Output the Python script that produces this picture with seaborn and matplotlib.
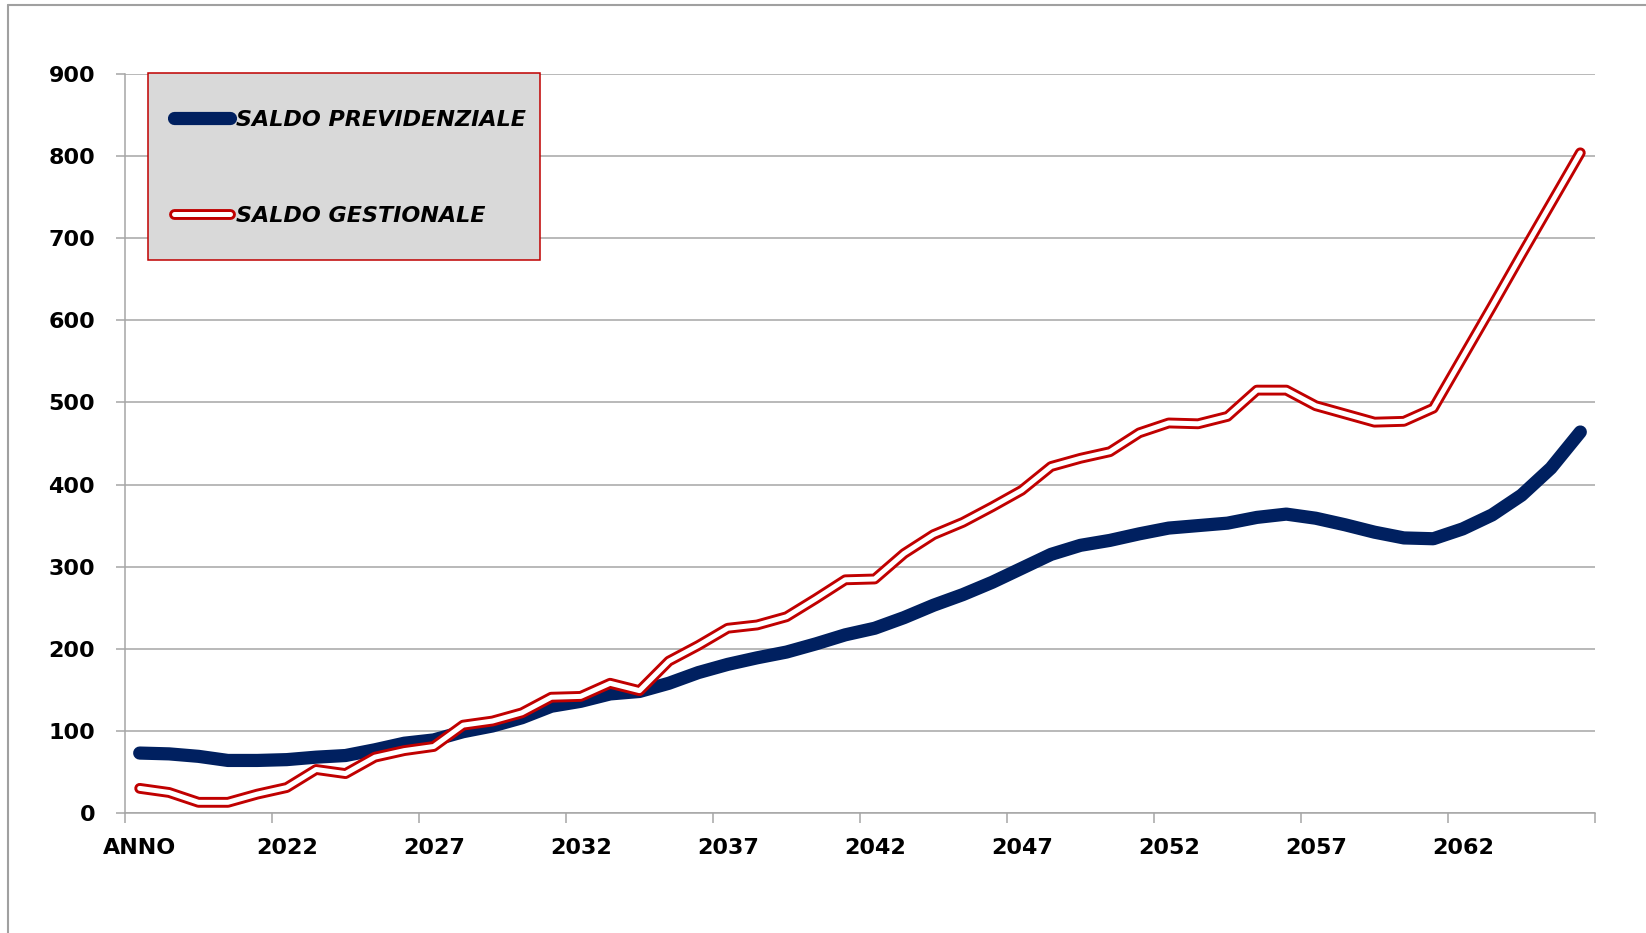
import numpy as np
import pandas as pd
import matplotlib
matplotlib.use("Agg")
import matplotlib.pyplot as plt
from matplotlib.lines import Line2D
from matplotlib.patches import Rectangle
from matplotlib.legend_handler import HandlerTuple
import seaborn as sns

# dati
anni = ["ANNO"] + [str(a) for a in range(2018, 2067)]

saldo_previdenziale = [73, 72, 69, 64, 64, 65, 68, 70, 77, 85,
                       89, 99, 106, 116, 130, 136, 145, 148, 158, 171,
                       181, 189, 196, 206, 217, 225, 238, 253, 266, 281,
                       298, 315, 326, 332, 340, 347, 350, 353, 360, 364,
                       359, 351, 342, 335, 334, 346, 363, 387, 420, 464]

saldo_gestionale = [30, 25, 13, 13, 23, 31, 53, 48, 68, 76,
                    81, 107, 112, 122, 141, 142, 158, 149, 185, 204,
                    225, 229, 239, 261, 284, 285, 316, 339, 354, 373,
                    393, 422, 432, 440, 463, 475, 474, 483, 515, 515,
                    496, 486, 476, 477, 493, 555, 617, 680, 742, 804]

etichette_y = list(range(0, 901, 100))

df = pd.DataFrame({
    "pos": np.arange(len(anni)),
    "anno": anni,
    "prev": saldo_previdenziale,
    "gest": saldo_gestionale,
})

sns.set_style("white")
plt.rcParams["font.family"] = ["DejaVu Sans"]

W, H = 1646, 933
blu = "#002060"
rosso = "#C00000"
griglia = "#A6A6A6"
lw_blu, lw_rosso, lw_bianco = 9.5, 7.8, 3.6

fig = plt.figure(figsize=(W / 100, H / 100), dpi=100)
ax = fig.add_axes([125 / W, 1 - 813 / H, 1470 / W, (813 - 74) / H])

sns.lineplot(data=df, x="pos", y="prev", ax=ax, color=blu, linewidth=lw_blu,
             solid_capstyle="round", solid_joinstyle="round", zorder=3)
# linea doppia rossa: tratto rosso spesso + tratto bianco interno
sns.lineplot(data=df, x="pos", y="gest", ax=ax, color=rosso, linewidth=lw_rosso,
             solid_capstyle="round", solid_joinstyle="round", zorder=4)
sns.lineplot(data=df, x="pos", y="gest", ax=ax, color="white", linewidth=lw_bianco,
             solid_capstyle="round", solid_joinstyle="round", zorder=5)

ax.set_xlim(-0.5, len(anni) - 0.5)
ax.set_ylim(0, 900)
ax.set_yticks(etichette_y)

pos_lab = list(range(0, len(anni), 5))
ax.set_xticks(np.arange(-0.5, len(anni), 5))
ax.set_xticklabels([])
ax.set_xticks(pos_lab, minor=True)
ax.set_xticklabels([anni[i] for i in pos_lab], minor=True)

ax.tick_params(axis="x", which="major", length=7.5, width=1.1, color=griglia,
               direction="out", bottom=True)
ax.tick_params(axis="x", which="minor", length=0, pad=18, labelsize=16,
               labelcolor="black")
ax.tick_params(axis="y", length=6.5, width=1.1, color=griglia, direction="out",
               pad=15, labelsize=16, labelcolor="black", left=True)
for lbl in ax.get_xticklabels(minor=True) + ax.get_yticklabels():
    lbl.set_fontweight("bold")

ax.grid(axis="y", color=griglia, linewidth=1.1)
ax.grid(axis="x", visible=False)
ax.set_axisbelow(True)
for s in ["top", "right"]:
    ax.spines[s].set_visible(False)
for s in ["left", "bottom"]:
    ax.spines[s].set_color(griglia)
    ax.spines[s].set_linewidth(1.1)
ax.set_xlabel("")
ax.set_ylabel("")

# cornice esterna (solo bordo sinistro e superiore visibili)
fig.add_artist(Line2D([8 / W, 8 / W], [0, 1 - 5 / H], transform=fig.transFigure,
                      color="#A0A0A0", linewidth=1.5))
fig.add_artist(Line2D([8 / W, 1], [1 - 5 / H, 1 - 5 / H], transform=fig.transFigure,
                      color="#A0A0A0", linewidth=1.5))

# riquadro legenda
fig.add_artist(Rectangle((148 / W, 1 - 260 / H), (540 - 148) / W, (260 - 73) / H,
                         transform=fig.transFigure, facecolor="#D9D9D9",
                         edgecolor=rosso, linewidth=1.1, zorder=6))

h1 = Line2D([], [], color=blu, linewidth=lw_blu, solid_capstyle="round")
h2 = (Line2D([], [], color=rosso, linewidth=lw_rosso, solid_capstyle="round"),
      Line2D([], [], color="white", linewidth=lw_bianco, solid_capstyle="round"))
leg = fig.legend([h1, h2], ["SALDO PREVIDENZIALE", "SALDO GESTIONALE"],
                 handler_map={tuple: HandlerTuple(ndivide=1)},
                 loc="upper left", bbox_to_anchor=(174 / W, 1 - 110 / H),
                 frameon=False, borderpad=0, borderaxespad=0,
                 handlelength=2.5, handletextpad=0.3, labelspacing=3.4,
                 labelcolor="black",
                 prop={"weight": "bold", "style": "italic", "size": 16})
leg.set_zorder(7)

fig.savefig("out.png", dpi=100)
